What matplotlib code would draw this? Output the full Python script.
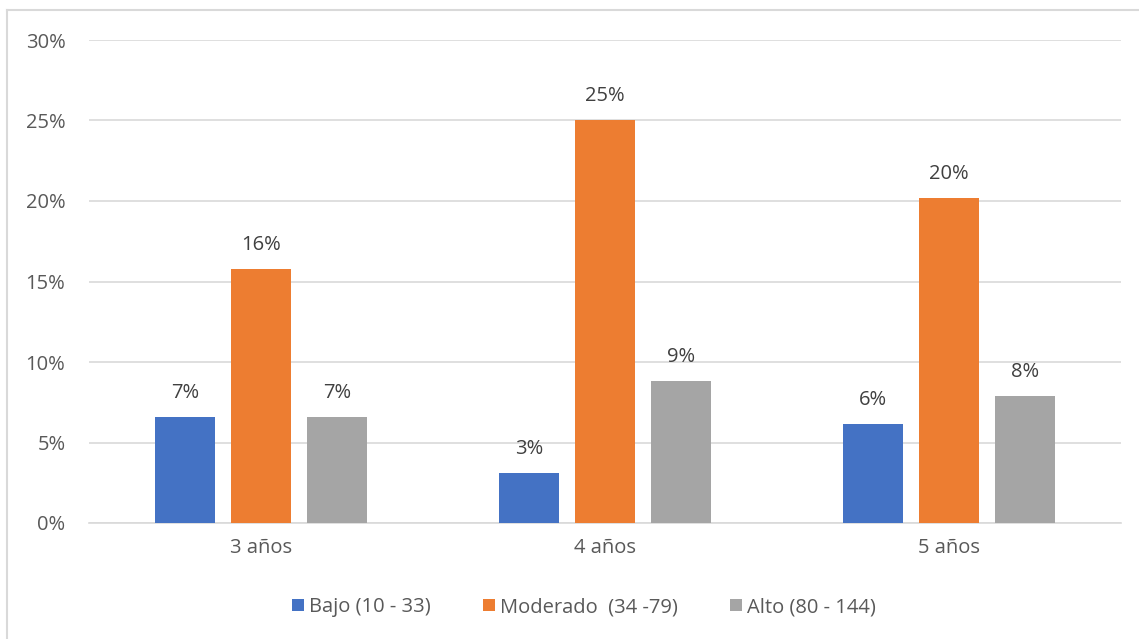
import matplotlib
matplotlib.use("Agg")
import matplotlib.pyplot as plt
import numpy as np
from matplotlib.lines import Line2D

categories = ["3 años", "4 años", "5 años"]
series_names = ["Bajo (10 - 33)", "Moderado  (34 -79)", "Alto (80 - 144)"]
bajo = [6.6, 3.1, 6.15]
moderado = [15.8, 25.05, 20.2]
alto = [6.6, 8.8, 7.9]
labels_bajo = ["7%", "3%", "6%"]
labels_moderado = ["16%", "25%", "20%"]
labels_alto = ["7%", "9%", "8%"]
yticks = [0, 5, 10, 15, 20, 25, 30]

colors = ["#4472C4", "#ED7D31", "#A5A5A5"]
text_color = "#595959"
plt.rcParams['font.family'] = ['Open Sans', 'DejaVu Sans']
fs = 14.5

W, H = 1139, 639
fig = plt.figure(figsize=(W/100, H/100), dpi=100)
ax = fig.add_axes([89/W, 1-523/H, (1121-89)/W, (523-40)/H])

x = np.arange(len(categories))
bw = 60/344
step = 76/344
all_vals = [bajo, moderado, alto]
all_labels = [labels_bajo, labels_moderado, labels_alto]
for i, (vals, labs) in enumerate(zip(all_vals, all_labels)):
    pos = x + (i-1)*step
    ax.bar(pos, vals, width=bw, color=colors[i], label=series_names[i], zorder=3)
    for p, v, l in zip(pos, vals, labs):
        ax.annotate(l, (p, v), xytext=(0, 10), textcoords="offset points",
                    ha="center", va="bottom", fontsize=fs, color="#404040")

ax.set_xlim(-0.5, 2.5)
ax.set_ylim(0, 30)
ax.set_yticks(yticks)
ax.set_yticklabels([f"{t}%" for t in yticks], fontsize=fs, color=text_color)
ax.set_xticks(x)
ax.set_xticklabels(categories, fontsize=fs, color=text_color)
ax.tick_params(axis="both", length=0)
ax.tick_params(axis="y", pad=17)
ax.tick_params(axis="x", pad=11)
ax.grid(axis="y", color="#D9D9D9", linewidth=1.2, zorder=0)
for s in ["top", "right", "left"]:
    ax.spines[s].set_visible(False)
ax.spines["bottom"].set_color("#D9D9D9")
ax.spines["bottom"].set_linewidth(1.2)

leg = fig.legend(loc="center", bbox_to_anchor=(584/W, 1-607/H), ncol=3, frameon=False,
                 fontsize=fs, handlelength=0.6, handleheight=0.6, handletextpad=0.25,
                 columnspacing=2.6)
for t in leg.get_texts():
    t.set_color(text_color)

fig.add_artist(Line2D([7/W, 1], [1-10/H, 1-10/H], color="#D9D9D9", linewidth=1.5, transform=fig.transFigure))
fig.add_artist(Line2D([7/W, 7/W], [0, 1-10/H], color="#D9D9D9", linewidth=1.5, transform=fig.transFigure))

fig.savefig("out.png", dpi=100)
